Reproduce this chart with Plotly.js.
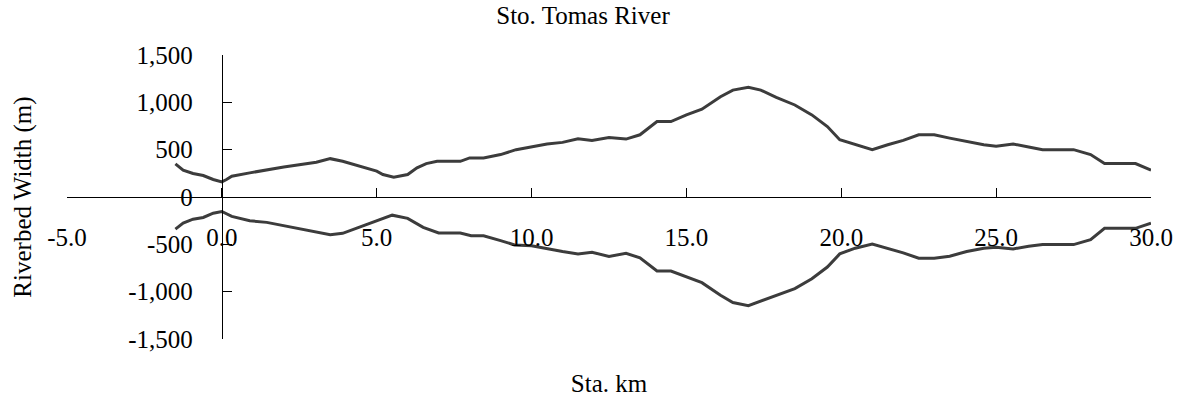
<!DOCTYPE html>
<html>
<head>
<meta charset="utf-8">
<script src="https://cdn.plot.ly/plotly-3.0.1.min.js"></script>
<style>
  html, body { margin: 0; padding: 0; background: #fff; }
  #myGraph { width: 1184px; height: 407px; }
</style>
</head>
<body>
<div id="myGraph"></div>
<script>
// 右岸 (上側) 河床幅
let upperKm = [-1.5, -1.25, -0.93, -0.6, -0.28, 0, 0.15, 0.32, 0.9, 2.0, 3.05, 3.5, 3.9, 4.45, 5.0, 5.2, 5.55, 6.0, 6.3, 6.6, 6.95, 7.7, 8.0, 8.45, 9.0, 9.5, 10.0, 10.5, 11.0, 11.5, 11.95, 12.5, 13.05, 13.5, 14.05, 14.5, 15.0, 15.5, 16.1, 16.5, 17.0, 17.4, 17.9, 18.5, 19.05, 19.55, 19.95, 20.45, 21.0, 21.5, 22.0, 22.5, 23.0, 23.5, 24.05, 24.6, 25.0, 25.55, 26.05, 26.5, 27.5, 28.05, 28.5, 29.5, 30.0];
let upperWidth = [350, 283, 248, 227, 185, 160, 185, 220, 255, 318, 367, 405, 377, 325, 273, 238, 210, 238, 308, 353, 377, 377, 413, 413, 448, 500, 530, 560, 577, 615, 597, 629, 612, 657, 797, 797, 867, 927, 1059, 1129, 1160, 1129, 1052, 972, 867, 744, 605, 552, 500, 552, 598, 657, 657, 622, 587, 552, 535, 560, 528, 500, 500, 448, 353, 353, 283];

// 左岸 (下側) 河床幅
let lowerKm = [-1.5, -1.25, -0.93, -0.6, -0.28, 0, 0.32, 0.9, 1.45, 2.5, 3.5, 3.9, 4.35, 5.0, 5.5, 6.0, 6.5, 7.0, 7.7, 8.05, 8.45, 9.0, 9.45, 10.0, 10.5, 11.0, 11.5, 11.95, 12.5, 13.05, 13.5, 14.05, 14.5, 15.0, 15.5, 16.1, 16.5, 17.0, 17.5, 18.0, 18.5, 19.05, 19.55, 19.95, 20.45, 21.0, 21.5, 22.0, 22.5, 23.0, 23.5, 24.05, 24.6, 25.0, 25.55, 26.05, 26.5, 27.5, 28.05, 28.5, 29.5, 30.0];
let lowerWidth = [-339, -276, -234, -216, -171, -153, -205, -251, -268, -331, -398, -384, -331, -251, -192, -226, -321, -380, -380, -409, -409, -461, -506, -514, -548, -576, -601, -583, -629, -594, -643, -782, -782, -845, -905, -1038, -1114, -1149, -1090, -1027, -967, -863, -740, -601, -541, -496, -541, -590, -646, -646, -625, -576, -541, -530, -548, -520, -503, -503, -451, -331, -331, -276];

// 目盛
let xTickVals = [-5, 0, 5, 10, 15, 20, 25, 30];
let xTickText = ['-5.0', '0.0', '5.0', '10.0', '15.0', '20.0', '25.0', '30.0'];
let yTickVals = [-1500, -1000, -500, 0, 500, 1000, 1500];
let yTickText = ['-1,500', '-1,000', '-500', '0', '500', '1,000', '1,500'];

let myGraph = document.getElementById('myGraph');
let lineStyle = { color: '#3c3c3c', width: 3 };

let trace1 = {
    type: 'scatter',
    mode: 'lines',
    x: upperKm,
    y: upperWidth,
    line: lineStyle,
    showlegend: false
};

let trace2 = {
    type: 'scatter',
    mode: 'lines',
    x: lowerKm,
    y: lowerWidth,
    line: lineStyle,
    showlegend: false
};

let data = [trace1, trace2];

let serif = 'Liberation Serif, Times New Roman, serif';
let txtFont = { family: serif, size: 25, color: '#000' };

let layout = {
    width: 1184,
    height: 407,
    margin: { l: 67, r: 33, t: 55, b: 68 },
    paper_bgcolor: '#fff',
    plot_bgcolor: '#fff',
    font: txtFont,
    title: {
        text: 'Sto. Tomas River',
        font: txtFont,
        x: 583 / 1184, xref: 'container', xanchor: 'center',
        y: 0.985, yref: 'container', yanchor: 'top'
    },
    xaxis: {
        range: [-5, 30],
        anchor: 'free',
        position: 0.5,  // y = 0 の位置
        tickvals: xTickVals,
        ticktext: xTickText,
        tickfont: txtFont,
        ticks: 'inside',
        ticklen: 9,
        tickcolor: '#000',
        ticklabelstandoff: 18,
        showline: true,
        linecolor: '#000',
        linewidth: 1,
        showgrid: false,
        zeroline: false,
        title: { text: 'Sta. km', font: txtFont, standoff: 124 }
    },
    yaxis: {
        range: [-1500, 1500],
        anchor: 'free',
        position: 5 / 35,  // x = 0 の位置
        tickvals: yTickVals,
        ticktext: yTickText,
        tickfont: txtFont,
        ticks: 'inside',
        ticklen: 9,
        tickcolor: '#000',
        ticklabelstandoff: 24,
        showline: true,
        linecolor: '#000',
        linewidth: 1,
        showgrid: false,
        zeroline: false,
        title: { text: 'Riverbed Width (m)', font: txtFont, standoff: 88 }
    }
};

Plotly.newPlot(myGraph, data, layout, { staticPlot: true });
</script>
</body>
</html>
